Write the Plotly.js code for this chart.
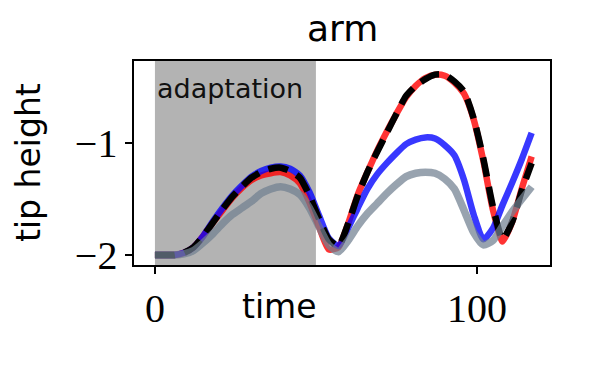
<!DOCTYPE html>
<html>
<head>
<meta charset="utf-8">
<script src="https://cdn.plot.ly/plotly-3.0.1.min.js"></script>
<style>
  html, body { margin: 0; padding: 0; background: #fff; }
  #chart { width: 598px; height: 369px; }
</style>
</head>
<body>
<div id="chart"></div>
<script>
const time = [0, 3, 6, 9, 12, 15, 18, 21, 24, 27, 30, 33, 36, 39, 42, 45, 48, 51, 54, 57,
  60, 63, 66, 69, 72, 75, 78, 81, 84, 87, 90, 93, 96, 99, 102, 105, 108, 111, 114, 117];

const redTip = [-2.00, -2.00, -2.00, -1.98, -1.93, -1.83, -1.71, -1.60, -1.49, -1.40,
  -1.33, -1.29, -1.27, -1.26, -1.29, -1.36, -1.53, -1.75, -1.95, -1.93,
  -1.72, -1.46, -1.26, -1.07, -0.90, -0.74, -0.59, -0.49, -0.42, -0.39,
  -0.40, -0.46, -0.56, -0.79, -1.16, -1.60, -1.88, -1.70, -1.40, -1.12];

const blueTip = [-2.00, -2.00, -2.00, -1.98, -1.93, -1.83, -1.70, -1.58, -1.47, -1.38,
  -1.30, -1.25, -1.22, -1.21, -1.23, -1.29, -1.44, -1.65, -1.85, -1.92,
  -1.76, -1.58, -1.41, -1.28, -1.18, -1.09, -1.01, -0.97, -0.95, -0.96,
  -1.02, -1.11, -1.33, -1.64, -1.86, -1.76, -1.55, -1.35, -1.14, -0.91];

const blackTip = [-2.00, -2.00, -2.00, -1.98, -1.93, -1.83, -1.71, -1.59, -1.48, -1.39,
  -1.31, -1.26, -1.23, -1.22, -1.25, -1.31, -1.47, -1.68, -1.86, -1.92,
  -1.72, -1.47, -1.26, -1.08, -0.91, -0.74, -0.58, -0.49, -0.43, -0.39,
  -0.39, -0.45, -0.54, -0.78, -1.14, -1.57, -1.86, -1.70, -1.42, -1.18];

const greyTip = [-2.00, -2.00, -2.00, -1.99, -1.96, -1.89, -1.81, -1.72, -1.64, -1.58,
  -1.52, -1.45, -1.41, -1.39, -1.41, -1.46, -1.58, -1.75, -1.91, -1.97,
  -1.87, -1.74, -1.63, -1.54, -1.45, -1.37, -1.30, -1.27, -1.26, -1.27,
  -1.32, -1.41, -1.60, -1.80, -1.91, -1.87, -1.74, -1.61, -1.50, -1.39];

const adaptStart = 0;
const adaptEnd = 50;

const line = (y, color, width, dash) => ({
  type: "scatter",
  mode: "lines",
  x: time,
  y: y,
  line: { color: color, width: width, dash: dash || "solid", shape: "spline", smoothing: 0.6 },
  hoverinfo: "skip",
});

const traces = [
  line(redTip, "rgba(255,0,0,0.8)", 6.5),
  line(blueTip, "rgba(0,0,255,0.78)", 6.5),
  line(blackTip, "#000000", 6.5, "20px,10px"),
  line(greyTip, "rgba(112,128,144,0.72)", 7.5),
];

const tickFont = { family: "Liberation Serif, serif", size: 40, color: "#000" };
const labelFont = { family: "DejaVu Sans, sans-serif", size: 33, color: "#000" };

const layout = {
  width: 598,
  height: 369,
  margin: { l: 134, r: 48, t: 61, b: 104 },
  paper_bgcolor: "#fff",
  plot_bgcolor: "#fff",
  showlegend: false,
  xaxis: {
    range: [-6.5, 122.7],
    tickvals: [0, 100],
    ticktext: ["0", "100"],
    ticks: "outside",
    ticklen: 7,
    tickwidth: 1.5,
    tickcolor: "#000",
    tickfont: tickFont,
    showgrid: false,
    zeroline: false,
    showline: true,
    linecolor: "#000",
    linewidth: 1.6,
    mirror: true,
  },
  yaxis: {
    range: [-2.089, -0.268],
    tickvals: [-2, -1],
    ticktext: ["\u22122", "\u22121"],
    ticks: "outside",
    ticklen: 7,
    tickwidth: 1.5,
    tickcolor: "#000",
    tickfont: tickFont,
    showgrid: false,
    zeroline: false,
    showline: true,
    linecolor: "#000",
    linewidth: 1.6,
    mirror: true,
  },
  shapes: [
    {
      type: "rect",
      layer: "below",
      xref: "x",
      yref: "paper",
      x0: adaptStart,
      x1: adaptEnd,
      y0: 0,
      y1: 1,
      fillcolor: "#b3b3b3",
      line: { width: 0 },
    },
  ],
  annotations: [
    {
      text: "arm",
      xref: "paper", yref: "paper",
      x: 0.5, y: 1.0,
      xanchor: "center", yanchor: "bottom",
      yshift: 10,
      showarrow: false,
      font: { family: "DejaVu Sans, sans-serif", size: 36, color: "#000" },
    },
    {
      text: "time",
      xref: "paper", yref: "paper",
      x: 0.35, y: 0,
      xanchor: "center", yanchor: "top",
      yshift: -20,
      showarrow: false,
      font: labelFont,
    },
    {
      text: "tip height",
      xref: "paper", yref: "paper",
      x: 0, y: 0.5,
      xanchor: "center", yanchor: "middle",
      xshift: -106,
      textangle: -90,
      showarrow: false,
      font: labelFont,
    },
    {
      text: "adaptation",
      xref: "x", yref: "paper",
      x: adaptStart, y: 1,
      xanchor: "left", yanchor: "top",
      xshift: 0, yshift: -10,
      showarrow: false,
      font: { family: "DejaVu Sans, sans-serif", size: 27, color: "#111" },
    },
  ],
};

Plotly.newPlot("chart", traces, layout, { displayModeBar: false, staticPlot: true });
</script>
</body>
</html>
